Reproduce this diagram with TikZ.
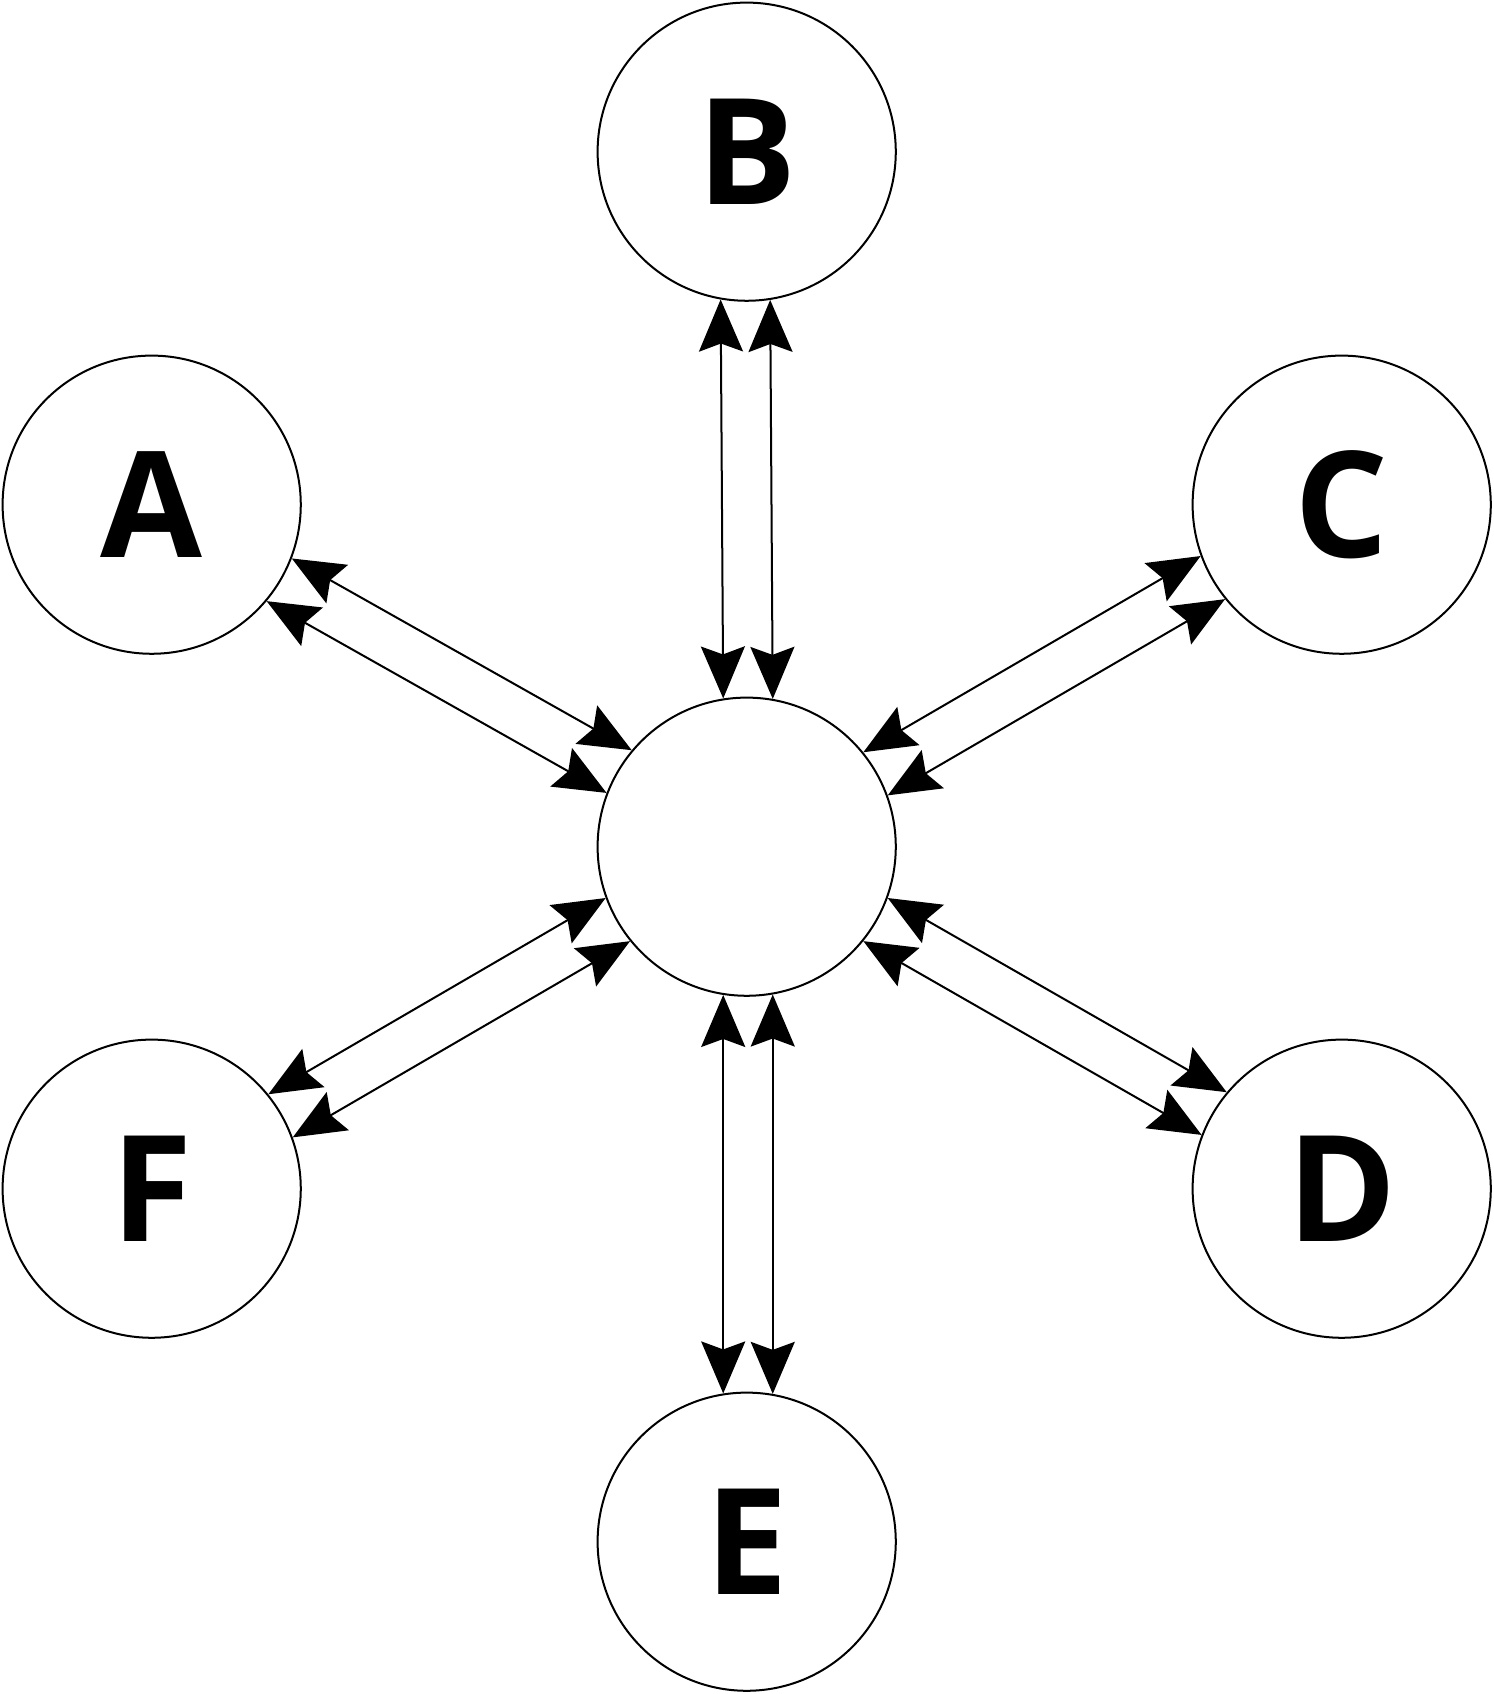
\documentclass[tikz,border=0pt]{standalone}
\usepackage{fontspec}
\setmainfont{Open Sans}
\usetikzlibrary{arrows.meta}

\begin{document}
\begin{tikzpicture}[x=0.01cm, y=0.01cm,
    station/.style={circle, draw, line width=0.02cm, minimum size=2.98cm, inner sep=0pt,
      font=\fontsize{42}{42}\selectfont\bfseries},
    link/.style={line width=0.02cm,
      {Stealth[length=0.52cm, width=0.44cm, inset=0.08cm]}-{Stealth[length=0.52cm, width=0.44cm, inset=0.08cm]}}]
  \useasboundingbox (-746.7,-847.3) rectangle (746.3,846.7);

  % Hub in the middle
  \node[station] (hub) at (0,0) {};

  % Outer stations
  \node[station] (A) at (-595,342) {A};
  \node[station] (B) at (0,695) {B};
  \node[station] (C) at (595,342) {C};
  \node[station] (D) at (595,-342) {D};
  \node[station] (E) at (0,-695) {E};
  \node[station] (F) at (-595,-342) {F};

  % Two parallel links to each station
  \foreach \n/\a in {A/150, B/90, C/30, D/-30, E/-90, F/210} {
    \pgfmathsetmacro\p{\a+9.4}
    \pgfmathsetmacro\q{\a+180-9.4}
    \pgfmathsetmacro\r{\a-9.4}
    \pgfmathsetmacro\s{\a+180+9.4}
    \draw[link] (hub.\p) -- (\n.\q);
    \draw[link] (hub.\r) -- (\n.\s);
  }
\end{tikzpicture}
\end{document}
